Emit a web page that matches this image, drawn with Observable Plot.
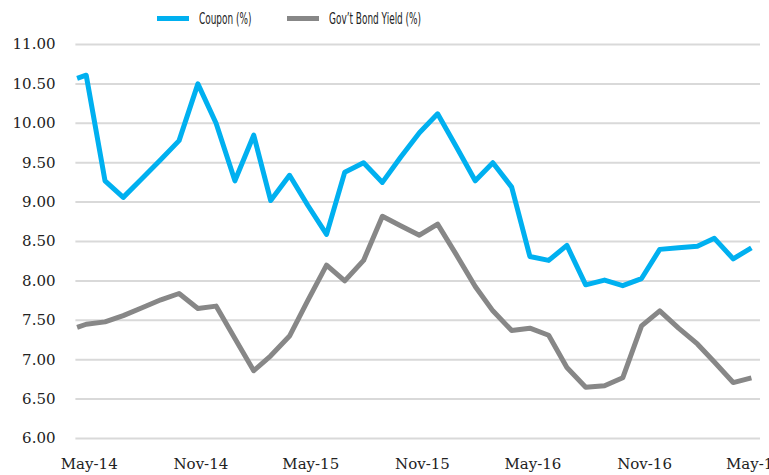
<!DOCTYPE html>
<html>
<head>
<meta charset="utf-8">
<script src="https://cdn.jsdelivr.net/npm/d3@7"></script>
<script src="https://cdn.jsdelivr.net/npm/@observablehq/plot@0.6"></script>
<style>
  html, body { margin: 0; padding: 0; background: #fff; }
  #legend { height: 36px; position: relative; font-family: "Liberation Sans Narrow", "DejaVu Sans Condensed", sans-serif; font-size: 16px; color: #222; }
  .item { position: absolute; top: 9px; display: flex; align-items: center; white-space: nowrap; }
  .sw { width: 32px; height: 5px; margin-right: 10px; flex: none; }
  .txt { display: inline-block; transform: scaleX(0.62); transform-origin: left center; }
</style>
</head>
<body>
<div id="legend">
  <div class="item" style="left:157px"><span class="sw" style="background:#00b0f0"></span><span class="txt" id="l1"></span></div>
  <div class="item" style="left:287px"><span class="sw" style="background:#878787"></span><span class="txt" id="l2"></span></div>
</div>
<div id="chart"></div>
<script>
const seriesNames = ["Coupon (%)", "Gov\u2019t Bond Yield (%)"];
const dates = [
  "2014-04-16","2014-05-01","2014-06-01","2014-07-01","2014-08-01","2014-09-01","2014-10-01",
  "2014-11-01","2014-12-01","2015-01-01","2015-02-01","2015-03-01","2015-04-01","2015-05-01",
  "2015-06-01","2015-07-01","2015-08-01","2015-09-01","2015-10-01","2015-11-01","2015-12-01",
  "2016-01-01","2016-02-01","2016-03-01","2016-04-01","2016-05-01","2016-06-01","2016-07-01",
  "2016-08-01","2016-09-01","2016-10-01","2016-11-01","2016-12-01","2017-01-01","2017-02-01",
  "2017-03-01","2017-04-01","2017-05-01"
];
const coupon = [
  10.57, 10.61, 9.27, 9.06, 9.30, 9.54, 9.78,
  10.50, 10.00, 9.27, 9.85, 9.02, 9.34, 8.96,
  8.59, 9.38, 9.50, 9.25, 9.57, 9.88, 10.12,
  9.70, 9.27, 9.50, 9.19, 8.31, 8.26, 8.45,
  7.95, 8.01, 7.94, 8.03, 8.40, 8.42, 8.44,
  8.54, 8.28, 8.42
];
const govYield = [
  7.41, 7.45, 7.48, 7.56, 7.66, 7.76, 7.84,
  7.65, 7.68, 7.27, 6.86, 7.05, 7.30, 7.75,
  8.20, 8.00, 8.26, 8.82, 8.70, 8.58, 8.72,
  8.33, 7.93, 7.62, 7.37, 7.40, 7.31, 6.90,
  6.65, 6.67, 6.77, 7.43, 7.62, 7.40, 7.20,
  6.97, 6.71, 6.77
];
const yTicks = [6, 6.5, 7, 7.5, 8, 8.5, 9, 9.5, 10, 10.5, 11];
const xTickDates = ["2014-05-01","2014-11-01","2015-05-01","2015-11-01","2016-05-01","2016-11-01","2017-05-01"];
const xTickLabels = ["May-14","Nov-14","May-15","Nov-15","May-16","Nov-16","May-17"];

document.getElementById("l1").textContent = seriesNames[0];
document.getElementById("l2").textContent = seriesNames[1];

const parse = d3.utcParse("%Y-%m-%d");
const rows = [];
dates.forEach((d, i) => {
  rows.push({date: parse(d), value: coupon[i], series: seriesNames[0]});
});
dates.forEach((d, i) => {
  rows.push({date: parse(d), value: govYield[i], series: seriesNames[1]});
});
const tickDates = xTickDates.map(parse);
const labelFor = new Map(tickDates.map((d, i) => [+d, xTickLabels[i]]));

const chart = Plot.plot({
  width: 769,
  height: 439,
  marginTop: 8,
  marginBottom: 37,
  marginLeft: 76,
  marginRight: 9,
  style: {background: "#fff", fontFamily: "'DejaVu Serif', serif", fontSize: "14px", color: "#222"},
  x: {type: "utc", domain: [parse("2014-04-15"), parse("2017-05-16")]},
  y: {domain: [6, 11]},
  color: {domain: seriesNames, range: ["#00b0f0", "#878787"]},
  marks: [
    Plot.ruleY(yTicks, {stroke: "#d9d9d9", strokeWidth: 2, x1: parse("2014-04-14"), x2: parse("2017-05-16")}),
    Plot.axisY({ticks: yTicks, tickSize: 0, tickPadding: 21, tickFormat: d3.format(".2f"), label: null, fontSize: 15}),
    Plot.axisX({ticks: tickDates, tickSize: 0, tickPadding: 20, dx: 3, tickFormat: d => labelFor.get(+d), label: null, fontSize: 15}),
    Plot.line(rows, {x: "date", y: "value", z: "series", stroke: "series", strokeWidth: 5, strokeLinejoin: "round", strokeLinecap: "butt"})
  ]
});
document.getElementById("chart").appendChild(chart);
</script>
</body>
</html>
